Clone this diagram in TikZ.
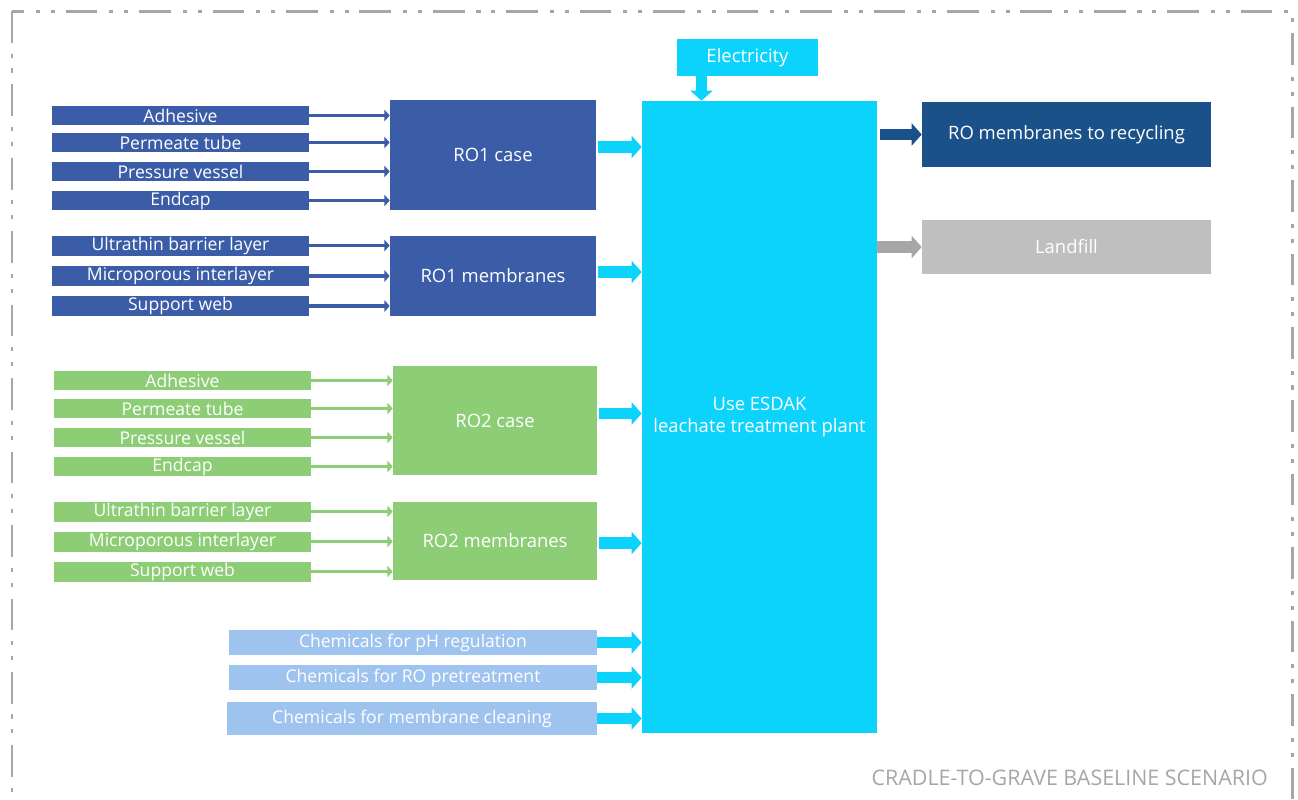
\documentclass[tikz,border=0pt]{standalone}
\usepackage{fontspec}
\setmainfont{Open Sans}
\usepackage{xcolor}
\usepackage{tikz}
\usetikzlibrary{shapes,arrows.meta,positioning,calc}

\definecolor{roone}{HTML}{3B5DA8}
\definecolor{rotwo}{HTML}{8CCD76}
\definecolor{plant}{HTML}{0CD3FB}
\definecolor{chem}{HTML}{9DC3EE}
\definecolor{recyc}{HTML}{1A5189}
\definecolor{landf}{HTML}{BFBFBF}
\definecolor{greyline}{HTML}{A6A6A6}

\begin{document}
\begin{tikzpicture}[
  x=0.02cm, y=-0.02cm,
  box/.style={rectangle, inner sep=0pt, text=white,
              font=\fontsize{10.5}{13}\selectfont, align=center},
  item/.style={box, minimum width=5.14cm, minimum height=0.38cm,
               font=\fontsize{10}{12}\selectfont},
  chembox/.style={box, fill=chem, minimum width=7.36cm, minimum height=0.5cm,
                  font=\fontsize{10}{12}\selectfont},
  thinarr/.style={-{Triangle[length=3pt,width=6.5pt]}, line width=1.8pt},
  fatarr/.style={-{Triangle[length=5.7pt,width=12.5pt]}, line width=6.8pt, draw=plant}
]
\useasboundingbox (0,0) rectangle (1298,799);
\draw[greyline, line width=1.7pt,
      dash pattern=on 18pt off 6.2pt on 2.3pt off 6.2pt on 2.3pt off 6.8pt]
  (12,11) rectangle (1292,830);

% RO1
\node[item, fill=roone] (a1) at (180.5,115.5) {Adhesive};
\node[item, fill=roone] (a2) at (180.5,142.5) {Permeate tube};
\node[item, fill=roone] (a3) at (180.5,171.5) {Pressure vessel};
\node[item, fill=roone] (a4) at (180.5,200.5) {Endcap};
\node[box, fill=roone, minimum width=4.12cm, minimum height=2.2cm] (ro1case) at (493,155) {RO1 case};

\node[item, fill=roone, minimum height=0.4cm] (b1) at (180.5,245.5) {Ultrathin barrier layer};
\node[item, fill=roone, minimum height=0.4cm] (b2) at (180.5,276) {Microporous interlayer};
\node[item, fill=roone, minimum height=0.4cm] (b3) at (180.5,306) {Support web};
\node[box, fill=roone, minimum width=4.12cm, minimum height=1.6cm] (ro1mem) at (493,276) {RO1 membranes};

% RO2
\node[item, fill=rotwo] (c1) at (182.5,380.5) {Adhesive};
\node[item, fill=rotwo] (c2) at (182.5,408.5) {Permeate tube};
\node[item, fill=rotwo] (c3) at (182.5,437.5) {Pressure vessel};
\node[item, fill=rotwo] (c4) at (182.5,466.5) {Endcap};
\node[box, fill=rotwo, minimum width=4.08cm, minimum height=2.18cm] (ro2case) at (495,420.5) {RO2 case};

\node[item, fill=rotwo, minimum height=0.4cm] (d1) at (182.5,511.5) {Ultrathin barrier layer};
\node[item, fill=rotwo, minimum height=0.4cm] (d2) at (182.5,541.5) {Microporous interlayer};
\node[item, fill=rotwo, minimum height=0.4cm] (d3) at (182.5,571.5) {Support web};
\node[box, fill=rotwo, minimum width=4.08cm, minimum height=1.56cm] (ro2mem) at (495,541) {RO2 membranes};

% plant, inputs and outputs
\node[box, fill=plant, minimum width=4.7cm, minimum height=12.64cm] (use) at (759.5,417)
  {Use ESDAK\\leachate treatment plant};
\node[box, fill=plant, minimum width=2.82cm, minimum height=0.74cm] (elec) at (747.5,57.5) {Electricity};

\node[chembox] (ch1) at (413,642.5) {Chemicals for pH regulation};
\node[chembox] (ch2) at (413,677.5) {Chemicals for RO pretreatment};
\node[chembox, minimum width=7.4cm, minimum height=0.66cm] (ch3) at (412,718.5) {Chemicals for membrane cleaning};

\node[box, fill=recyc, minimum width=5.78cm, minimum height=1.3cm] (recy) at (1066.5,134.5) {RO membranes to recycling};
\node[box, fill=landf, minimum width=5.78cm, minimum height=1.08cm] (land) at (1066.5,247) {Landfill};

\node[anchor=east, text=greyline, font=\fontsize{12.2}{14}\selectfont] (scen) at (1274,778)
  {CRADLE-TO-GRAVE BASELINE SCENARIO};

\foreach \n in {a1,a2,a3,a4}
  \draw[thinarr, roone] (\n.east) -- (\n.east -| ro1case.west);
\foreach \n in {b1,b2,b3}
  \draw[thinarr, roone] (\n.east) -- (\n.east -| ro1mem.west);
\foreach \n in {c1,c2,c3,c4}
  \draw[thinarr, rotwo] (\n.east) -- (\n.east -| ro2case.west);
\foreach \n in {d1,d2,d3}
  \draw[thinarr, rotwo] (\n.east) -- (\n.east -| ro2mem.west);

\draw[fatarr] ([shift={(2,-8)}]ro1case.east) -- ([shift={(0,-8)}]ro1case.east -| use.west);
\draw[fatarr] ([shift={(2,-4)}]ro1mem.east) -- ([shift={(0,-4)}]ro1mem.east -| use.west);
\draw[fatarr] ([shift={(2,-7)}]ro2case.east) -- ([shift={(0,-7)}]ro2case.east -| use.west);
\draw[fatarr] ([shift={(2,2)}]ro2mem.east) -- ([shift={(0,2)}]ro2mem.east -| use.west);
\foreach \n in {ch1,ch2,ch3}
  \draw[fatarr] (\n.east) -- (\n.east -| use.west);
\draw[fatarr] ([shift={(-46,0)}]elec.south) -- ([shift={(-46,0)}]elec.south |- use.north);

\draw[fatarr, draw=recyc] ([shift={(3,0)}]use.east |- recy.west) -- (recy.west);
\draw[fatarr, draw=greyline] (use.east |- land.west) -- (land.west);
\end{tikzpicture}
\end{document}
